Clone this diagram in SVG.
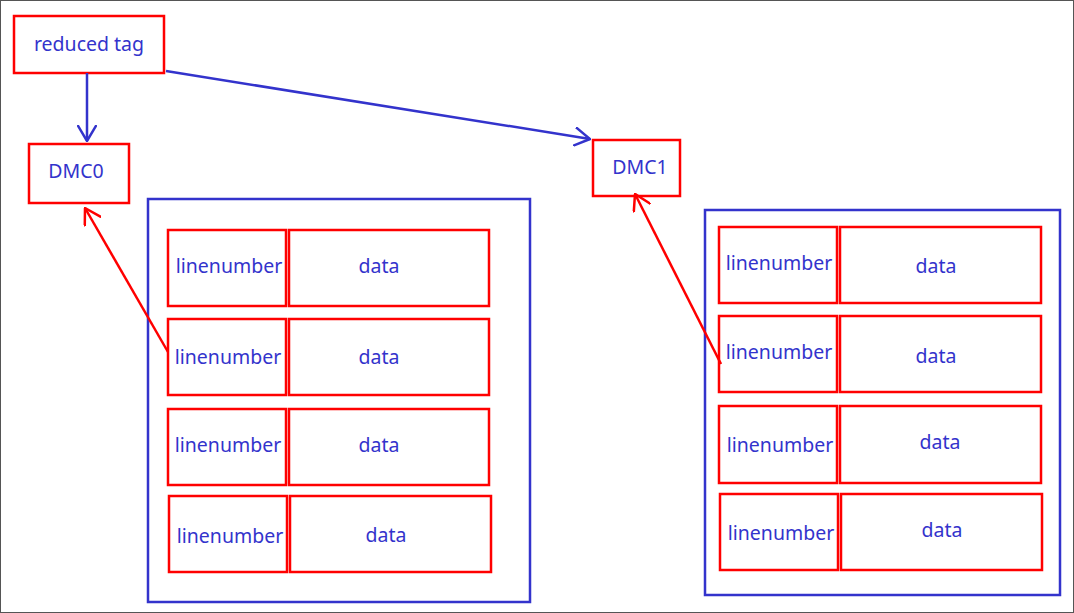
<svg xmlns="http://www.w3.org/2000/svg" width="1074" height="613" viewBox="0 0 1074 613">
<style>
.n{fill:#fff;stroke:#ff0000;stroke-width:2.5}
.c{fill:none;stroke:#3333cc;stroke-width:2.5}
.t{font-family:"Noto Sans","Open Sans",sans-serif;font-size:19.5px;fill:#3333cc;text-anchor:middle;dominant-baseline:central}
.eb{fill:none;stroke:#3333cc;stroke-width:2.5}
.er{fill:none;stroke:#ff0000;stroke-width:2.5}
</style>
<defs>
<marker id="ab" viewBox="0 0 17 20" refX="16" refY="10" markerWidth="17" markerHeight="20" markerUnits="userSpaceOnUse" orient="auto"><path d="M0,0.5 L16,10 L0,19.5" fill="none" stroke="#3333cc" stroke-width="2.5"/></marker>
<marker id="ar" viewBox="0 0 17 20" refX="16" refY="10" markerWidth="17" markerHeight="20" markerUnits="userSpaceOnUse" orient="auto"><path d="M0,0.5 L16,10 L0,19.5" fill="none" stroke="#ff0000" stroke-width="2.5"/></marker>
</defs>
<rect x="0.5" y="0.5" width="1073" height="612" fill="#fff" stroke="#555" stroke-width="1"/>
<g id="containerL"><rect class="c" x="148" y="199" width="382" height="403"/></g>
<g id="containerR"><rect class="c" x="705" y="210" width="355" height="385"/></g>
<g id="reducedtag"><rect class="n" x="14" y="16" width="150" height="57"/><text class="t" x="89" y="43">reduced tag</text></g>
<g id="DMC0"><rect class="n" x="29" y="144" width="100" height="59"/><text class="t" x="76" y="170">DMC0</text></g>
<g id="DMC1"><rect class="n" x="593" y="140" width="87" height="56"/><text class="t" x="640" y="166">DMC1</text></g>
<g id="L1"><rect class="n" x="168" y="230" width="118" height="76"/><text class="t" x="229" y="265">linenumber</text><rect class="n" x="289" y="230" width="200" height="76"/><text class="t" x="379" y="265">data</text></g>
<g id="L2"><rect class="n" x="168" y="319" width="118" height="76"/><text class="t" x="228" y="356">linenumber</text><rect class="n" x="289" y="319" width="200" height="76"/><text class="t" x="379" y="356">data</text></g>
<g id="L3"><rect class="n" x="168" y="409" width="118" height="76"/><text class="t" x="228" y="444">linenumber</text><rect class="n" x="289" y="409" width="200" height="76"/><text class="t" x="379" y="444">data</text></g>
<g id="L4"><rect class="n" x="169" y="496" width="118" height="76"/><text class="t" x="230" y="535">linenumber</text><rect class="n" x="290" y="496" width="201" height="76"/><text class="t" x="386" y="534">data</text></g>
<g id="R1"><rect class="n" x="719" y="227" width="118" height="76"/><text class="t" x="779" y="262">linenumber</text><rect class="n" x="840" y="227" width="201" height="76"/><text class="t" x="936" y="265">data</text></g>
<g id="R2"><rect class="n" x="719" y="316" width="118" height="76"/><text class="t" x="779" y="351">linenumber</text><rect class="n" x="840" y="316" width="201" height="76"/><text class="t" x="936" y="355">data</text></g>
<g id="R3"><rect class="n" x="719" y="406" width="118" height="77"/><text class="t" x="780" y="444">linenumber</text><rect class="n" x="840" y="406" width="201" height="77"/><text class="t" x="940" y="441">data</text></g>
<g id="R4"><rect class="n" x="720" y="494" width="118" height="76"/><text class="t" x="781" y="532">linenumber</text><rect class="n" x="841" y="494" width="201" height="76"/><text class="t" x="942" y="529">data</text></g>
<g id="connectors">
<line class="eb" x1="87" y1="73" x2="87" y2="141" marker-end="url(#ab)"/>
<line class="eb" x1="166" y1="71" x2="590" y2="139" marker-end="url(#ab)"/>
<line class="er" x1="168" y1="352" x2="85" y2="208" marker-end="url(#ar)"/>
<line class="er" x1="721" y1="364" x2="635" y2="194" marker-end="url(#ar)"/>
</g>
</svg>
